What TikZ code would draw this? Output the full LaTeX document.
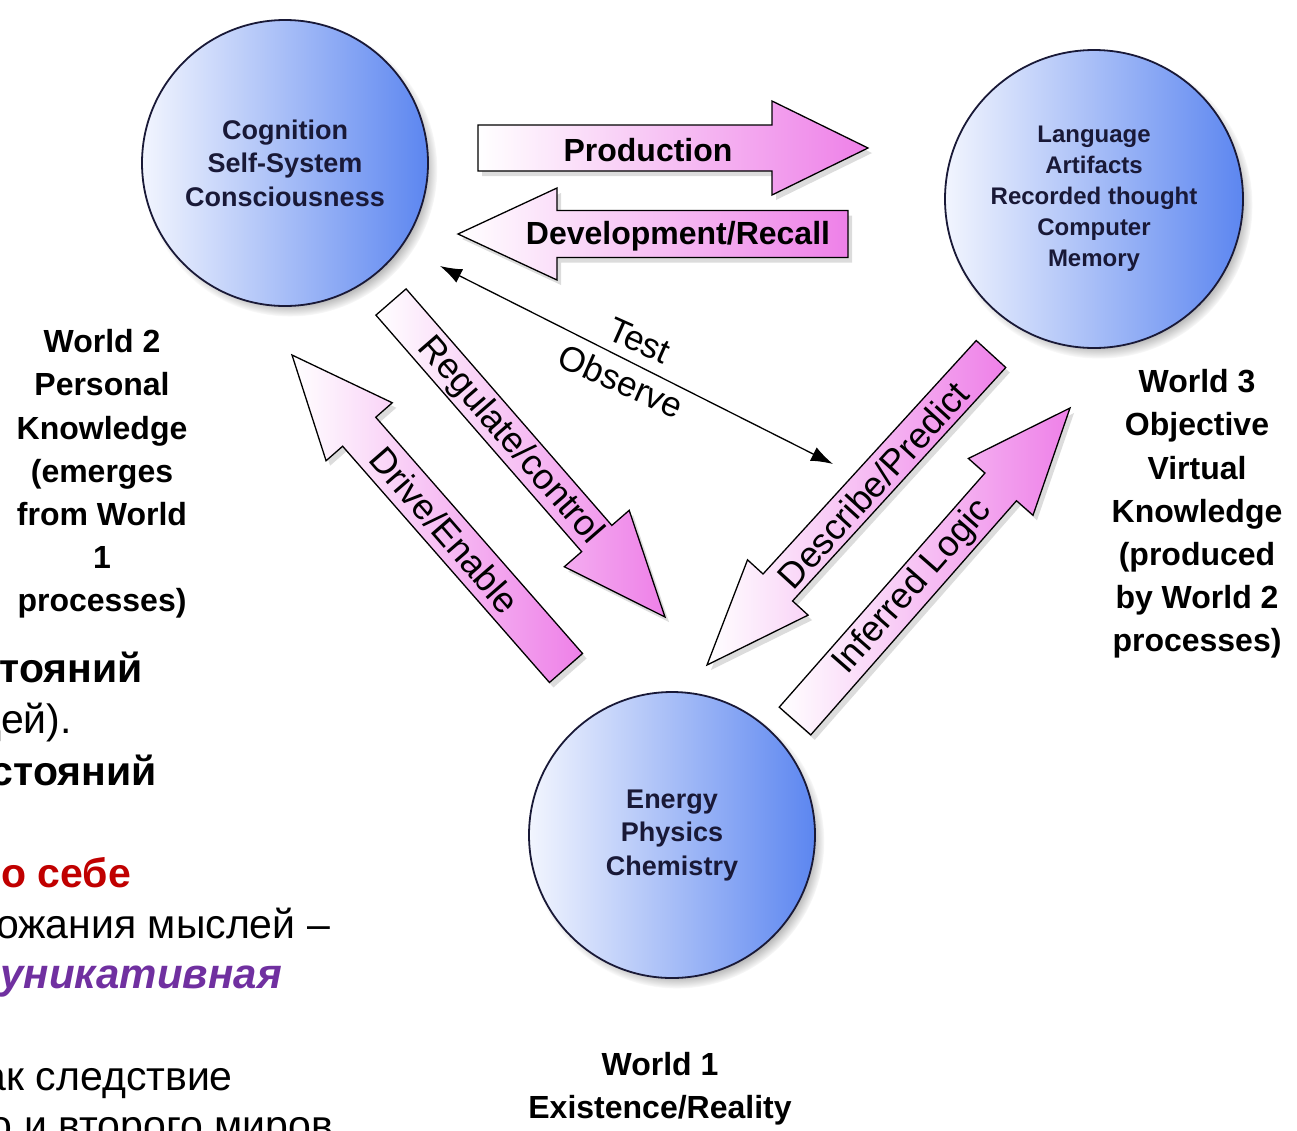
\documentclass[tikz,border=0pt]{standalone}
\usepackage{fontspec}
\setmainfont{Liberation Sans}
\usetikzlibrary{calc,shadows,arrows.meta}
\definecolor{pinkc}{RGB}{238,128,232}
\definecolor{circL}{RGB}{242,245,254}
\definecolor{circR}{RGB}{92,134,240}
\definecolor{circD}{RGB}{25,25,55}
\definecolor{ruRed}{RGB}{192,0,0}
\definecolor{ruPurple}{RGB}{112,48,160}
\newcommand\fsz[2]{\fontsize{#1pt}{#2pt}\selectfont}
\tikzset{
  world/.style={circle, minimum size=#1pt, inner sep=0pt, left color=circL, right color=circR,
    draw=circD, line width=1.8pt,
    circular drop shadow={shadow xshift=5pt, shadow yshift=-6pt, shadow scale=1.03},
    align=center, text=circD, font=\bfseries\fsz{27}{33.5}},
  wlabel/.style={align=center, inner sep=0pt, font=\bfseries\fsz{32}{43.2}},
  arrowbox/.style={draw=black, line width=1.3pt, line join=miter, left color=white, right color=pinkc,
    drop shadow={shadow xshift=4pt, shadow yshift=-5pt, opacity=0.28}},
  boldlab/.style={inner sep=0pt, font=\bfseries\fsz{32}{40}},
  diaglab/.style={inner sep=0pt, font=\fsz{36}{44}},
  rutext/.style={inner sep=0pt, anchor=base east, font=\fsz{41}{51}},
  thinarrow/.style={{Latex[length=22pt,width=15pt]}-{Latex[length=22pt,width=15pt]}, line width=1.3pt}
}
\newcommand\blockarrow[5]{%
  \coordinate (ba-b) at ($(#2)!#5pt!(#1)$);
  \path[arrowbox] ($(#1)!#3pt!90:(#2)$) -- ($(ba-b)!#3pt!90:(#2)$) -- ($(ba-b)!#4pt!90:(#2)$) -- (#2)
     -- ($(ba-b)!#4pt!-90:(#2)$) -- ($(ba-b)!#3pt!-90:(#2)$) -- ($(#1)!#3pt!-90:(#2)$) -- cycle;
}
\begin{document}
\begin{tikzpicture}[x=1pt,y=-1pt]
\useasboundingbox (0,0) rectangle (1297,1130);

% Russian text (partly cut at the left edge)
\node[rutext, font=\bfseries\fsz{41}{51}] (r1) at (143,682) {тояний};
\node[rutext] (r2) at (72,733) {дей).};
\node[rutext, font=\bfseries\fsz{41}{51}] (r3) at (157,785) {стояний};
\node[rutext, font=\bfseries\fsz{41}{51}, text=ruRed] (r4) at (131,887) {о себе};
\node[rutext] (r5) at (330,938) {ожания мыслей –};
\node[rutext, font=\bfseries\itshape\fsz{42}{51}, text=ruPurple] (r6) at (282,988) {уникативная};
\node[rutext] (r7) at (233,1090) {ак следствие};
\node[rutext] (r8) at (333,1139) {о и второго миров};

% circles
\node[world=286] (w2) at (285,163) {Cognition\\Self-System\\Consciousness};
\node[world=298, font=\bfseries\fsz{24}{31}] (w3) at (1094,199) {Language\\Artifacts\\Recorded thought\\Computer\\Memory};
\node[world=286] (w1) at (672,835) {Energy\\Physics\\Chemistry};

% world labels
\node[wlabel] (l2) at (102,474) {World 2\\Personal\\Knowledge\\(emerges\\from World\\1\\processes)};
\node[wlabel] (l3) at (1197,514) {World 3\\Objective\\Virtual\\Knowledge\\(produced\\by World 2\\processes)};
\node[wlabel] (l1) at (660,1089) {World 1\\Existence/Reality};

% block arrow end points
\coordinate (prodT) at (478,148);  \coordinate (prodP) at (868,148);
\coordinate (devT) at (848,234);   \coordinate (devP) at (458,234);
\coordinate (regT) at (391,302);   \coordinate (regP) at (665,617);
\coordinate (drvT) at (566,668);   \coordinate (drvP) at (292,355);
\coordinate (desT) at (991,354);   \coordinate (desP) at (707,665);
\coordinate (infT) at (795,721);   \coordinate (infP) at (1070,408);

\blockarrow{prodT}{prodP}{23}{47}{96}
\blockarrow{devT}{devP}{23.5}{46}{99}
\blockarrow{regT}{regP}{20}{43}{104}
\blockarrow{drvT}{drvP}{22}{44}{102}
\blockarrow{desT}{desP}{20}{41}{105}
\blockarrow{infT}{infP}{21}{43}{105}

\node[boldlab] (tprod) at (648,150) {Production};
\node[boldlab] (tdev) at (678,236) {Development/Recall};
\node[diaglab, rotate=-49] (treg) at (510,441) {Regulate/control};
\node[diaglab, rotate=-49] (tdrv) at (445,530) {Drive/Enable};
\node[diaglab, rotate=47.6] (tdes) at (873,485) {Describe/Predict};
\node[diaglab, rotate=48.7] (tinf) at (913,587) {Inferred Logic};

% test / observe
\coordinate (to1) at (440,266);
\coordinate (to2) at (833,464);
\draw[thinarrow] (to1) -- (to2);
\node[align=center, inner sep=0pt, rotate=-24, font=\fsz{35}{45}] (tto) at (630,361) {Test\\Observe};
\end{tikzpicture}
\end{document}
